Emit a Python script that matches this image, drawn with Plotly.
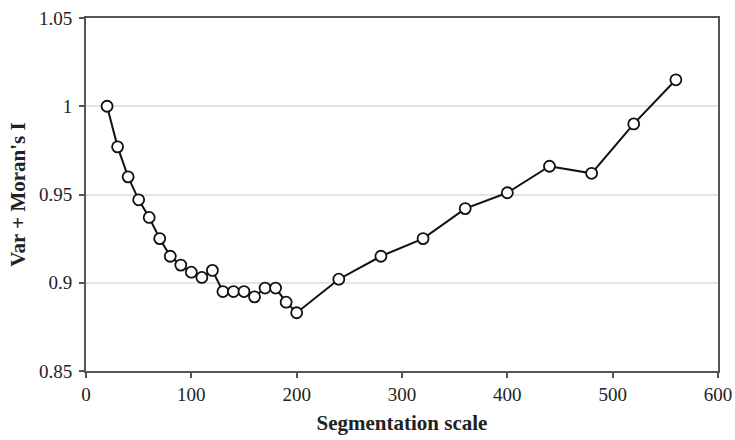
import plotly.graph_objects as go

scale = [20, 30, 40, 50, 60, 70, 80, 90, 100, 110, 120, 130, 140, 150, 160, 170, 180, 190, 200,
         240, 280, 320, 360, 400, 440, 480, 520, 560]
value = [1.000, 0.977, 0.960, 0.947, 0.937, 0.925, 0.915, 0.910, 0.906, 0.903, 0.907, 0.895,
         0.895, 0.895, 0.892, 0.897, 0.897, 0.889, 0.883,
         0.902, 0.915, 0.925, 0.942, 0.951, 0.966, 0.962, 0.990, 1.015]

x_ticks = [0, 100, 200, 300, 400, 500, 600]
y_ticks = [0.85, 0.9, 0.95, 1.0, 1.05]
y_tick_text = ["0.85", "0.9", "0.95", "1", "1.05"]

fig = go.Figure()
fig.add_trace(go.Scatter(
    x=scale, y=value, mode="lines+markers",
    line=dict(color="#111111", width=2),
    marker=dict(symbol="circle", size=11, color="white",
                line=dict(color="#111111", width=1.8)),
    showlegend=False,
))

font_family = "Liberation Serif, Times New Roman, serif"
fig.update_layout(
    width=735, height=440,
    margin=dict(l=86, r=17, t=18, b=69, autoexpand=False),
    paper_bgcolor="white", plot_bgcolor="white",
    font=dict(family=font_family, size=19, color="#222222"),
    xaxis=dict(
        range=[0, 600], tickvals=x_ticks, showgrid=False, zeroline=False,
        showline=True, linecolor="#555555", linewidth=2, mirror=True,
        ticks="outside", ticklen=5, tickwidth=2, tickcolor="#555555",
        ticklabeloverflow="allow",
        tickfont=dict(family=font_family, size=19, color="#222222"),
        title=dict(text="<b>Segmentation scale</b>", standoff=12,
                   font=dict(family=font_family, size=21, color="#222222")),
    ),
    yaxis=dict(
        range=[0.85, 1.05], tickvals=y_ticks, ticktext=y_tick_text,
        showgrid=True, gridcolor="#e4e4e4", gridwidth=2, zeroline=False,
        showline=True, linecolor="#555555", linewidth=2, mirror=True,
        ticks="outside", ticklen=5, tickwidth=2, tickcolor="#555555",
        ticklabelstandoff=3,
        tickfont=dict(family=font_family, size=19, color="#222222"),
        title=dict(text="<b>Var + Moran's I</b>", standoff=8,
                   font=dict(family=font_family, size=21, color="#222222")),
    ),
)

fig.write_html("out.html")
